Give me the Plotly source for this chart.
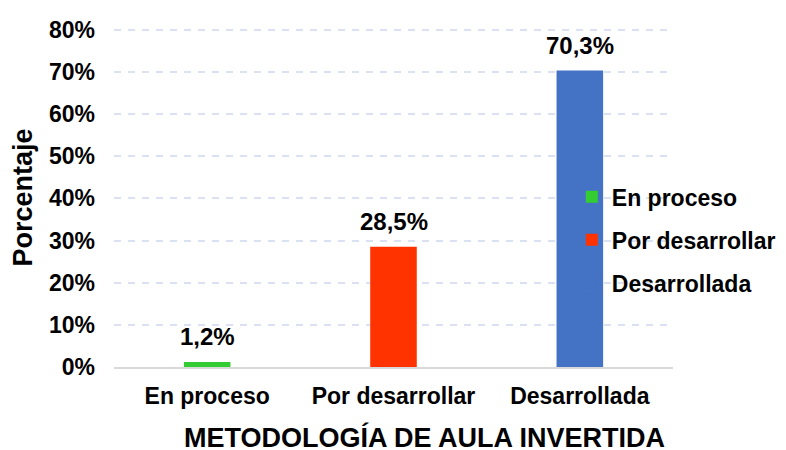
import plotly.graph_objects as go

categories = ["En proceso", "Por desarrollar", "Desarrollada"]
values = [1.2, 28.5, 70.3]
labels = ["1,2%", "28,5%", "70,3%"]
colors = ["#33CC33", "#FF3300", "#4472C4"]
y_ticks = [0, 10, 20, 30, 40, 50, 60, 70, 80]
y_tick_text = [f"{v}%" for v in y_ticks]
x_title = "METODOLOGÍA DE AULA INVERTIDA"
y_title = "Porcentaje"

FONT = "Liberation Sans, Arial, sans-serif"
FS = 23

fig = go.Figure()
for cat, val, col in zip(categories, values, colors):
    fig.add_trace(go.Bar(
        x=[cat], y=[val], name=f"<b>{cat}</b>", width=0.25,
        marker=dict(color=col, line=dict(width=0, color=col)),
        legendgroup=cat,
    ))

# data labels above the bars
for cat, val, lab in zip(categories, values, labels):
    fig.add_annotation(x=cat, y=val, text=f"<b>{lab}</b>", showarrow=False,
                       yanchor="middle", yshift=25,
                       font=dict(family=FONT, size=24, color="black"))

# x-axis title (offset to the right as in the original)
fig.add_annotation(xref="paper", yref="paper", x=0.556, y=-0.208,
                   xanchor="center", yanchor="middle", showarrow=False,
                   text=f"<b>{x_title}</b>",
                   font=dict(family=FONT, size=27, color="black"))

fig.update_layout(
    width=778, height=442,
    margin=dict(l=106, r=113, t=20, b=83, autoexpand=False),
    plot_bgcolor="white", paper_bgcolor="white",
    barmode="overlay",
    font=dict(family=FONT, size=FS, color="black"),
    showlegend=True,
    legend=dict(x=0.819, y=0.375, xanchor="left", yanchor="middle",
                bgcolor="rgba(0,0,0,0)", font=dict(size=23),
                tracegroupgap=10, itemwidth=30),
    xaxis=dict(
        automargin=False,
        categoryorder="array", categoryarray=categories,
        tickvals=categories, ticktext=[f"<b>{c}</b>" for c in categories],
        showline=True, linecolor="#D9D9D9", linewidth=2,
        ticks="", tickfont=dict(size=FS), ticklabelstandoff=7,
    ),
    yaxis=dict(
        automargin=False,
        range=[0, 80.4], tickvals=y_ticks, ticktext=[f"<b>{t}</b>" for t in y_tick_text],
        showgrid=True, gridcolor="#D9E1F2", griddash="7px,7px", gridwidth=2,
        zeroline=False, tickfont=dict(size=FS), ticklabelstandoff=18,
        title=dict(text=f"<b>{y_title}</b>", font=dict(size=27), standoff=8),
    ),
)

fig.write_html("out.html")
